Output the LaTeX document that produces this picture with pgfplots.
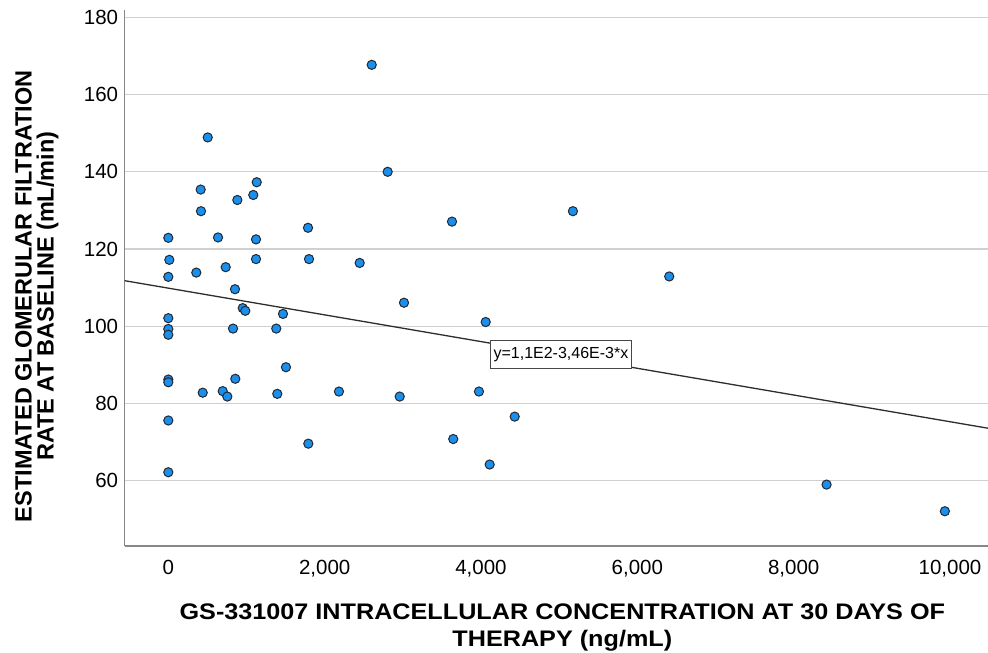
\documentclass[border=0pt]{standalone}
\usepackage{fontspec}
\setmainfont{Liberation Sans}
\newfontfamily\xtitlefont[FakeStretch=1.12]{Liberation Sans}
\usepackage{pgfplots}
\pgfplotsset{compat=1.18}
\usepackage{pgfplotstable}
\definecolor{ptfill}{RGB}{26,144,236}
\definecolor{ptedge}{RGB}{35,40,50}
\definecolor{gridc}{RGB}{208,208,208}
\definecolor{axc}{RGB}{135,135,135}
\pgfplotstableread{
x y
2602 167.7
504 148.9
2806 140.0
1131 137.3
414 135.4
1087 134.0
883 132.7
418 129.8
3629 127.1
1787 125.5
0 122.9
636 123.0
1122 122.5
13 117.2
1122 117.4
1800 117.4
2448 116.4
358 113.9
734 115.3
0 112.8
853 109.6
3015 106.1
952 104.7
985 104.0
1467 103.2
0 102.1
828 99.4
1381 99.4
0 99.3
0 97.8
1505 89.4
857 86.4
0 86.2
0 85.5
440 82.8
696 83.2
755 81.8
1394 82.5
2183 83.1
2960 81.8
0 75.6
1791 69.6
0 62.2
6408 112.9
4060 101.1
3974 83.1
4431 76.6
3645 70.8
4111 64.2
5176 129.8
8421 59.0
9934 52.1
}\pts
\pgfplotstableread{
x y
-558 111.8
10486 73.6
}\fit
\begin{document}
\begin{tikzpicture}
\path[use as bounding box] (0,0) rectangle (988bp,653bp);
\begin{axis}[
  at={(124.7bp,107bp)}, anchor=south west,
  scale only axis, width=863.3bp, height=536bp,
  xmin=-558, xmax=10486, ymin=43.1, ymax=181.9,
  scaled x ticks=false, scaled y ticks=false,
  axis x line*=bottom, axis y line*=left,
  axis line style={draw=axc, line width=1.3bp},
  major tick length=0pt,
  xtick={0,2000,4000,6000,8000,10000},
  xticklabels={0,{2,000},{4,000},{6,000},{8,000},{10,000}},
  ytick={60,80,100,120,140,160,180},
  yticklabels={60,80,100,120,140,160,180},
  ymajorgrids,
  grid style={draw=gridc, line width=1.3bp},
  tick label style={font=\fontsize{20.5bp}{24bp}\selectfont, text=black},
  xticklabel style={anchor=north, inner sep=0pt, yshift=-14bp},
  yticklabel style={anchor=east, inner sep=0pt, xshift=-6.4bp},
  xlabel={GS-331007 INTRACELLULAR CONCENTRATION AT 30 DAYS OF\\THERAPY (ng/mL)},
  xlabel style={at={(axis description cs:0.5,0)}, anchor=north, yshift=-57.5bp, xshift=6bp,
    inner sep=0pt, align=center, font=\xtitlefont\bfseries\fontsize{22.5bp}{26.7bp}\selectfont},
  ylabel={ESTIMATED GLOMERULAR FILTRATION\\RATE AT BASELINE (mL/min)},
  ylabel style={at={(axis description cs:-0.127,0.466)}, anchor=north,
    inner sep=0pt, align=center, font=\bfseries\fontsize{23.5bp}{22bp}\selectfont},
]
\addplot[no marks, draw={rgb,255:red,45;green,45;blue,45}, line width=1.3bp] table[x=x,y=y]{\fit};
\addplot[only marks, mark=*, mark size=4.6bp,
  mark options={fill=ptfill, draw=ptedge, line width=1bp}] table[x=x,y=y]{\pts};
\node[draw={rgb,255:red,70;green,70;blue,70}, fill=white, line width=0.8bp, inner sep=0pt,
  minimum width=141.7bp, minimum height=28bp,
  font=\fontsize{16bp}{19bp}\selectfont] at (axis cs:5023,92.7) {y=1,1E2-3,46E-3*x};
\end{axis}
\end{tikzpicture}
\end{document}
